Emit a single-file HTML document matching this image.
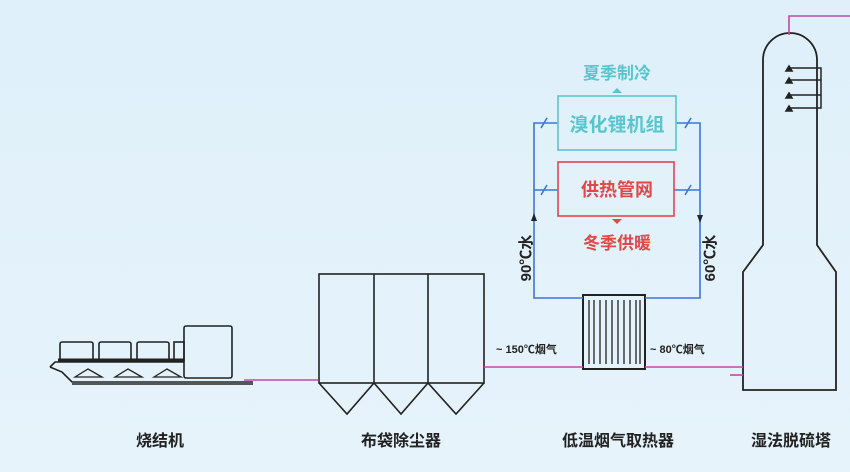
<!DOCTYPE html>
<html><head><meta charset="utf-8"><style>
html,body{margin:0;padding:0;width:850px;height:472px;overflow:hidden;background:#e0f0fa}
svg{display:block}
text{font-family:"Liberation Sans","Noto Sans CJK SC",sans-serif}
</style></head><body>
<svg width="850" height="472" viewBox="0 0 850 472" xmlns="http://www.w3.org/2000/svg">
<defs><linearGradient id="bg" x1="0" y1="0" x2="0" y2="1"><stop offset="0" stop-color="#dff0fa"/><stop offset="1" stop-color="#e6f3fb"/></linearGradient></defs>
<rect width="850" height="472" fill="url(#bg)"/>
<g fill="none" stroke="#222" stroke-width="1.6">
<path d="M50,367 L55,362 L184,362 M50,367 L62,372 L72,382 L253,382"/>
<line x1="72" y1="384" x2="253" y2="384" stroke="#555" stroke-width="2"/>
<rect x="60" y="342" width="33" height="19" rx="2"/>
<rect x="99" y="342" width="32" height="19" rx="2"/>
<rect x="137" y="342" width="32" height="19" rx="2"/>
<rect x="174" y="342" width="10" height="19"/>
<line x1="58" y1="360" x2="184" y2="360" stroke-width="3"/>
<rect x="184" y="326" width="48" height="52" rx="2"/>
<path d="M75,377 L88,369 L102,377 Z M115,377 L128,369 L142,377 Z M154,377 L167,369 L181,377 Z" stroke-width="1.3"/>
<rect x="319" y="274" width="165" height="109"/>
<line x1="374" y1="274" x2="374" y2="383"/>
<line x1="428" y1="274" x2="428" y2="383"/>
<path d="M319,383 L347,414 L374,383 L401,414 L428,383 L456,414 L484,383"/>
<path d="M743,390 L743,272 L763,245 L763,60 A27,27 0 0 1 817,60 L817,245 L836,272 L836,390 Z" stroke-width="1.8"/>
<path d="M790,68 H821 V108 H790 M790,80 H821 M790,95 H821" stroke-width="1.5"/>
<path d="M786,71 L789,66 L792,71 Z M786,83 L789,78 L792,83 Z M786,98 L789,93 L792,98 Z M786,111 L789,106 L792,111 Z" fill="#222"/>
<rect x="583" y="295" width="62" height="74" stroke-width="2"/>
<path d="M589,300 V364 M594,300 V364 M600,300 V364 M606,300 V364 M612,300 V364 M618,300 V364 M624,300 V364 M630,300 V364 M636,300 V364 M640,300 V364" stroke-width="1.3"/>
</g>
<g stroke="#c04aa8" stroke-width="1.6" fill="none">
<line x1="244" y1="380" x2="318" y2="380"/>
<line x1="484" y1="367" x2="583" y2="367"/>
<line x1="645" y1="367" x2="743" y2="367"/>
<line x1="730" y1="375" x2="743" y2="375"/>
<path d="M789,35 V16 H850"/>
</g>
<g stroke="#3a78d6" stroke-width="1.6" fill="none">
<path d="M583,298 H534 V123 H558 M676,123 H700 V298 H645"/>
<path d="M534,190 H558 M674,190 H700"/>
<path d="M541,128 L547,118 M541,195 L547,185 M685,128 L691,118 M685,195 L691,185"/>
</g>
<path d="M531,221 L534,213 L537,221 Z" fill="#223"/>
<path d="M697,215 L700,223 L703,215 Z" fill="#223"/>
<rect x="558" y="96" width="118" height="54" fill="none" stroke="#58c6cf" stroke-width="1.6"/>
<rect x="558" y="162" width="116" height="54" fill="none" stroke="#e04848" stroke-width="1.6"/>
<path d="M612,93 L617,88 L622,93 Z" fill="#58c6cf"/>
<path d="M612,219 L617,224 L622,219 Z" fill="#e04848"/>
<text x="617" y="79" font-size="17" font-weight="bold" fill="#58c6cf" text-anchor="middle">夏季制冷</text>
<text x="617" y="131" font-size="19" font-weight="bold" fill="#58c6cf" text-anchor="middle">溴化锂机组</text>
<text x="617" y="196" font-size="18" font-weight="bold" fill="#e04848" text-anchor="middle">供热管网</text>
<text x="617" y="249" font-size="17" font-weight="bold" fill="#e04848" text-anchor="middle">冬季供暖</text>
<text transform="translate(526,258) rotate(-90)" font-size="15" font-weight="bold" fill="#222" text-anchor="middle" dy="5">90℃水</text>
<text transform="translate(710,258) rotate(-90)" font-size="15" font-weight="bold" fill="#222" text-anchor="middle" dy="5">60℃水</text>
<text x="496" y="353" font-size="11" font-weight="bold" fill="#222">~ 150℃烟气</text>
<text x="650" y="353" font-size="11" font-weight="bold" fill="#222">~ 80℃烟气</text>
<g font-size="16" font-weight="bold" fill="#222" text-anchor="middle">
<text x="160" y="446">烧结机</text>
<text x="401" y="446">布袋除尘器</text>
<text x="618" y="446">低温烟气取热器</text>
<text x="791" y="446">湿法脱硫塔</text>
</g>
</svg>
</body></html>
